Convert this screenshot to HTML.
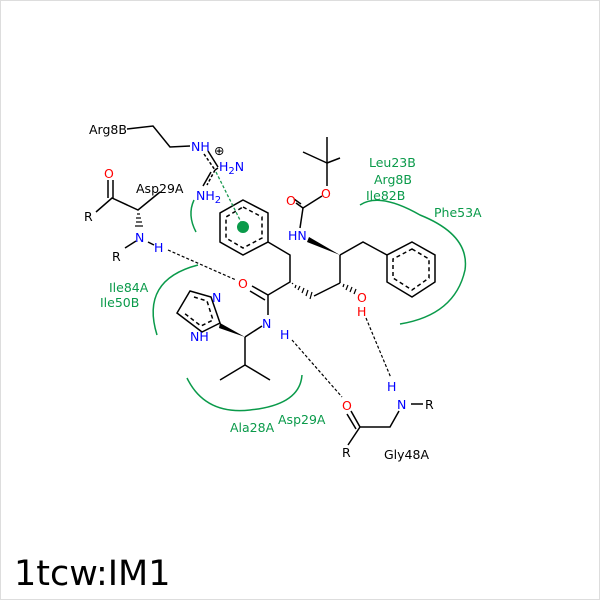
<!DOCTYPE html>
<html><head><style>
html,body{margin:0;padding:0;background:#fff}
svg{display:block}
text{font-family:"DejaVu Sans","Liberation Sans",sans-serif;font-size:12.5px}
</style></head><body>
<svg width="600" height="600" viewBox="0 0 600 600" xmlns="http://www.w3.org/2000/svg">
<rect x="0.5" y="0.5" width="599" height="599" fill="#fff" stroke="#ddd"/>
<g stroke="#000" stroke-width="1.5" fill="none">
<polyline points="127,129 153,126 170,147 190,146"/>
<line x1="204" y1="154" x2="215" y2="170" stroke-dasharray="3,2"/>
<line x1="208" y1="151" x2="218" y2="167"/>
<line x1="215" y1="170" x2="218" y2="168"/>
<line x1="215" y1="170" x2="207" y2="185" stroke-dasharray="3,2"/>
<line x1="211" y1="172" x2="203" y2="186"/>
<polygon points="243,200 268,213 268,242 243,255 220,242 220,213"/>
<polygon points="243,207 262,217 262,238 243,248 226,238 226,217" stroke-dasharray="4,3"/>
<polyline points="268,242 290,255 290,282 268,295 268,315"/>
<line x1="268" y1="295" x2="252" y2="286"/>
<line x1="265" y1="300" x2="250" y2="291"/>
<line x1="314" y1="296" x2="340" y2="283"/>
<line x1="340" y1="283" x2="340" y2="255"/>
<polyline points="340,255 363,242 387,255"/>
<polygon points="412,242 435,255 435,282 412,297 387,282 387,255"/>
<polygon points="412,249 429,259 429,278 412,290 393,278 393,259" stroke-dasharray="4,3"/>
<line x1="300" y1="228" x2="303" y2="208"/>
<line x1="303" y1="208" x2="296" y2="203"/>
<line x1="301" y1="204" x2="294" y2="199"/>
<line x1="303" y1="208" x2="322" y2="196"/>
<line x1="327" y1="186" x2="327" y2="163"/>
<line x1="327" y1="163" x2="303" y2="152"/>
<line x1="327" y1="163" x2="340" y2="158"/>
<line x1="327" y1="163" x2="327" y2="137"/>
<line x1="262" y1="326" x2="245" y2="337"/>
<polyline points="245,337 245,365 220,380"/>
<line x1="245" y1="365" x2="270" y2="380"/>
<polygon points="190,291 211,297 220,323 202,332 177,313"/>
<polyline points="194,297 207,301 213,320 201,326 184,313" stroke-dasharray="4,3"/>
<line x1="351" y1="411" x2="360" y2="427"/>
<line x1="347" y1="414" x2="356" y2="429"/>
<polyline points="348,445 360,427 390,427 399,411"/>
<line x1="411" y1="404" x2="423" y2="404"/>
<line x1="108" y1="180" x2="108" y2="198"/>
<line x1="113" y1="180" x2="113" y2="198"/>
<polyline points="96,212 112,198 138,210 160,192"/>
<line x1="125" y1="248" x2="136" y2="241"/>
<line x1="148" y1="242" x2="154" y2="245"/>
</g>
<polygon points="340,255 309,237 307,242" fill="#000"/>
<polygon points="245,337 220,323 219,328" fill="#000"/>
<g stroke="#000" stroke-width="1.2">
<line x1="292" y1="283" x2="293" y2="284"/><line x1="296" y1="285" x2="295" y2="288"/>
<line x1="300" y1="286" x2="298" y2="290"/><line x1="304" y1="288" x2="302" y2="293"/>
<line x1="308" y1="290" x2="306" y2="296"/><line x1="312" y1="292" x2="310" y2="299"/>
<line x1="344" y1="284" x2="343" y2="287"/><line x1="348" y1="285" x2="346" y2="290"/>
<line x1="352" y1="287" x2="350" y2="292"/><line x1="356" y1="289" x2="354" y2="294"/>
<line x1="137" y1="214" x2="140" y2="214"/><line x1="136" y1="218" x2="141" y2="218"/>
<line x1="136" y1="222" x2="142" y2="222"/><line x1="135" y1="226" x2="143" y2="226"/>
</g>
<g stroke="#000" stroke-width="1.2" stroke-dasharray="3,2" fill="none">
<line x1="168" y1="250" x2="236" y2="280"/>
<line x1="292" y1="340" x2="342" y2="397"/>
<line x1="366" y1="318" x2="391" y2="378"/>
</g>
<line x1="216" y1="172" x2="241" y2="222" stroke="#1a9850" stroke-width="1.3" stroke-dasharray="3,2"/>
<circle cx="243" cy="227" r="6" fill="#0a9a4a"/>
<g stroke="#0a9a4a" stroke-width="1.5" fill="none">
<path d="M194,200 Q187,215 196,232"/>
<path d="M157,335 Q140,280 198,265"/>
<path d="M360,205 Q380,192 420,215 Q470,235 465,270 Q455,315 400,324"/>
<path d="M187,378 Q205,415 250,410 Q300,405 302,375"/>
</g>
<g>
<text x="89" y="134" fill="#000">Arg8B</text>
<text x="191" y="151" fill="#0000ff">NH</text>
<text x="214" y="155" fill="#000" font-size="17">⊕</text>
<text x="219" y="171" fill="#0000ff">H<tspan font-size="10" dy="3">2</tspan><tspan dy="-3">N</tspan></text>
<text x="196" y="200" fill="#0000ff">NH<tspan font-size="10" dy="3">2</tspan></text>
<text x="104" y="178" fill="#ff0000">O</text>
<text x="84" y="221" fill="#000">R</text>
<text x="136" y="193" fill="#000">Asp29A</text>
<text x="135" y="242" fill="#0000ff">N</text>
<text x="154" y="252" fill="#0000ff">H</text>
<text x="112" y="261" fill="#000">R</text>
<text x="238" y="288" fill="#ff0000">O</text>
<text x="262" y="328" fill="#0000ff">N</text>
<text x="280" y="339" fill="#0000ff">H</text>
<text x="212" y="302" fill="#0000ff">N</text>
<text x="190" y="341" fill="#0000ff">NH</text>
<text x="357" y="302" fill="#ff0000">O</text>
<text x="357" y="316" fill="#ff0000">H</text>
<text x="286" y="205" fill="#ff0000">O</text>
<text x="321" y="198" fill="#ff0000">O</text>
<text x="288" y="240" fill="#0000ff">HN</text>
<text x="342" y="410" fill="#ff0000">O</text>
<text x="342" y="457" fill="#000">R</text>
<text x="387" y="391" fill="#0000ff">H</text>
<text x="397" y="409" fill="#0000ff">N</text>
<text x="425" y="409" fill="#000">R</text>
<text x="384" y="459" fill="#000">Gly48A</text>
</g>
<g fill="#0a9a4a">
<text x="369" y="167">Leu23B</text>
<text x="374" y="184">Arg8B</text>
<text x="366" y="200">Ile82B</text>
<text x="434" y="217">Phe53A</text>
<text x="109" y="292">Ile84A</text>
<text x="100" y="307">Ile50B</text>
<text x="230" y="432">Ala28A</text>
<text x="278" y="424">Asp29A</text>
</g>
<text x="14" y="585" fill="#000" style="font-size:35px">1tcw:IM1</text>
</svg>
</body></html>
